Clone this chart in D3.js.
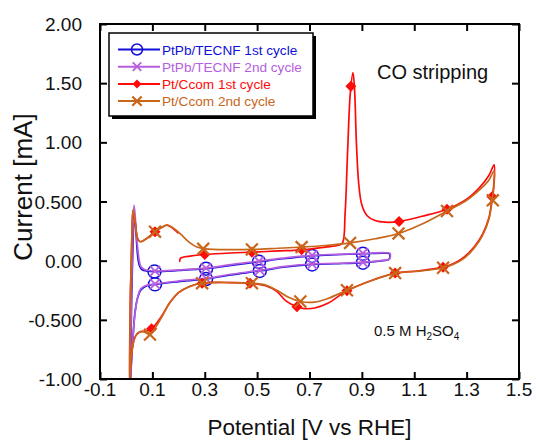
<!DOCTYPE html>
<html lang="en">
<head>
<meta charset="UTF-8">
<title>CO stripping</title>
<script src="https://cdn.jsdelivr.net/npm/d3@7"></script>
<style>
  body { margin: 0; background: #fff; font-family: 'Liberation Sans', Arial, sans-serif; }
  .frame { fill: none; stroke: #000; stroke-width: 2; }
  .tick-label { font-size: 19px; fill: #111; }
</style>
</head>
<body>
<div id="chart"></div>
<script>
// scan data: [potential V, current mA], in scan order
var pb1Line = [[0.016,-1.05],[0.021,-0.3],[0.026,0.15],[0.031,0.4],[0.037,0.25],[0.044,0.04],[0.051,-0.045],[0.06,-0.075],[0.08,-0.088],[0.11,-0.092],[0.2,-0.083],[0.305,-0.068],[0.4,-0.04],[0.507,-0.01],[0.6,0.016],[0.71,0.04],[0.8,0.05],[0.904,0.058],[0.99,0.063],[1.005,0.058],[1.004,0.012],[0.98,0.0],[0.904,-0.017],[0.8,-0.026],[0.71,-0.032],[0.6,-0.055],[0.51,-0.087],[0.4,-0.12],[0.305,-0.155],[0.2,-0.177],[0.11,-0.2],[0.075,-0.215],[0.055,-0.25],[0.043,-0.32],[0.033,-0.45],[0.025,-0.68],[0.019,-0.9],[0.016,-1.05]];
var pb2Line = [[0.015,-1.05],[0.02,-0.3],[0.025,0.2],[0.03,0.47],[0.036,0.33],[0.042,0.15],[0.05,0.0],[0.056,-0.05],[0.07,-0.075],[0.11,-0.087],[0.2,-0.078],[0.305,-0.063],[0.4,-0.033],[0.507,-0.004],[0.6,0.022],[0.71,0.045],[0.8,0.054],[0.904,0.062],[0.99,0.067],[1.007,0.062],[1.006,0.015],[0.98,0.003],[0.904,-0.013],[0.8,-0.022],[0.71,-0.028],[0.6,-0.05],[0.51,-0.082],[0.4,-0.115],[0.305,-0.15],[0.2,-0.172],[0.11,-0.197],[0.075,-0.21],[0.055,-0.24],[0.045,-0.3],[0.035,-0.42],[0.026,-0.65],[0.019,-0.9],[0.016,-1.05]];
var ccom1Line = [[0.205,-0.01],[0.207,0.02],[0.25,0.04],[0.3,0.052],[0.4,0.065],[0.48,0.072],[0.58,0.082],[0.67,0.092],[0.76,0.115],[0.81,0.13],[0.826,0.15],[0.836,0.4],[0.846,0.95],[0.856,1.42],[0.866,1.59],[0.872,1.45],[0.879,1.0],[0.888,0.65],[0.9,0.47],[0.92,0.38],[0.95,0.34],[0.99,0.325],[1.04,0.33],[1.13,0.375],[1.225,0.435],[1.3,0.52],[1.35,0.62],[1.385,0.72],[1.405,0.81],[1.404,0.65],[1.398,0.54],[1.385,0.36],[1.36,0.22],[1.33,0.12],[1.29,0.03],[1.25,-0.025],[1.21,-0.055],[1.12,-0.085],[1.03,-0.105],[0.94,-0.165],[0.843,-0.255],[0.77,-0.36],[0.72,-0.4],[0.68,-0.405],[0.652,-0.39],[0.61,-0.34],[0.575,-0.26],[0.53,-0.21],[0.473,-0.19],[0.4,-0.185],[0.29,-0.19],[0.24,-0.22],[0.2,-0.27],[0.165,-0.36],[0.135,-0.47],[0.097,-0.575],[0.07,-0.595],[0.05,-0.605],[0.035,-0.64],[0.025,-0.72],[0.018,-0.85],[0.013,-1.05],[0.016,-0.3],[0.021,0.15],[0.026,0.42],[0.034,0.32],[0.045,0.18],[0.055,0.16],[0.08,0.19],[0.11,0.245],[0.135,0.28],[0.156,0.3],[0.18,0.27],[0.2,0.23]];
var ccom2Line = [[0.013,-1.05],[0.016,-0.3],[0.021,0.15],[0.026,0.43],[0.034,0.33],[0.043,0.19],[0.053,0.16],[0.08,0.19],[0.11,0.245],[0.135,0.28],[0.156,0.3],[0.18,0.275],[0.205,0.23],[0.244,0.15],[0.27,0.115],[0.3,0.1],[0.4,0.093],[0.48,0.095],[0.58,0.105],[0.67,0.115],[0.76,0.128],[0.855,0.15],[0.95,0.185],[1.04,0.23],[1.13,0.31],[1.225,0.42],[1.3,0.51],[1.35,0.6],[1.385,0.68],[1.405,0.76],[1.404,0.62],[1.398,0.52],[1.385,0.35],[1.36,0.21],[1.33,0.11],[1.29,0.02],[1.25,-0.03],[1.21,-0.06],[1.12,-0.088],[1.03,-0.105],[0.94,-0.165],[0.843,-0.25],[0.77,-0.32],[0.72,-0.35],[0.665,-0.345],[0.62,-0.31],[0.575,-0.25],[0.53,-0.205],[0.473,-0.19],[0.4,-0.185],[0.29,-0.19],[0.24,-0.22],[0.2,-0.27],[0.165,-0.36],[0.135,-0.48],[0.1,-0.6],[0.085,-0.62],[0.065,-0.6],[0.045,-0.61],[0.03,-0.67],[0.02,-0.8],[0.015,-0.95],[0.013,-1.05]];

// marker positions
var pb1Marks = [[0.108,-0.092],[0.305,-0.068],[0.507,-0.01],[0.71,0.04],[0.904,0.058],[0.904,-0.017],[0.71,-0.032],[0.51,-0.087],[0.305,-0.155],[0.11,-0.2]];
var pb2Marks = [[0.11,-0.087],[0.305,-0.063],[0.507,-0.004],[0.71,0.045],[0.904,0.062],[0.904,-0.013],[0.71,-0.028],[0.51,-0.082],[0.305,-0.15],[0.11,-0.197]];
var ccom1Marks = [[0.11,0.245],[0.3,0.052],[0.48,0.072],[0.67,0.092],[0.858,1.475],[1.042,0.33],[1.225,0.435],[1.397,0.54],[1.21,-0.055],[1.027,-0.105],[0.843,-0.255],[0.652,-0.39],[0.473,-0.19],[0.29,-0.19],[0.097,-0.575]];
var ccom2Marks = [[0.11,0.245],[0.294,0.1],[0.48,0.095],[0.67,0.115],[0.855,0.15],[1.04,0.23],[1.225,0.42],[1.4,0.51],[1.21,-0.06],[1.027,-0.105],[0.843,-0.25],[0.665,-0.345],[0.48,-0.19],[0.29,-0.19],[0.091,-0.625]];

var seriesNames = ["PtPb/TECNF 1st cycle", "PtPb/TECNF 2nd cycle", "Pt/Ccom 1st cycle", "Pt/Ccom 2nd cycle"];
var seriesColors = ["#1010d8", "#b65ede", "#ff0a0a", "#c8661a"];
var seriesSymbols = ["circle", "xpurple", "diamond", "x"];

var xTicks = [-0.1, 0.1, 0.3, 0.5, 0.7, 0.9, 1.1, 1.3, 1.5];
var xTickLabels = ["-0.1", "0.1", "0.3", "0.5", "0.7", "0.9", "1.1", "1.3", "1.5"];
var yTicks = [-1, -0.5, 0, 0.5, 1, 1.5, 2];
var yTickLabels = ["-1.00", "-0.500", "0.00", "0.500", "1.00", "1.50", "2.00"];

var W = 536, H = 441;
var margin = {top: 24, right: 17, bottom: 62, left: 100};
var width = W - margin.left - margin.right,
    height = H - margin.top - margin.bottom;

var svg = d3.select("#chart").append("svg")
    .attr("width", W)
    .attr("height", H);

var g = svg.append("g")
    .attr("transform", "translate(" + margin.left + "," + margin.top + ")");

var x = d3.scaleLinear().domain([-0.1, 1.5]).range([0, width]);
var y = d3.scaleLinear().domain([-1, 2]).range([height, 0]);

g.append("clipPath").attr("id", "clip")
  .append("rect").attr("width", width).attr("height", height);

// axes, ticks point inward on all four sides
var tk = 7;
g.append("g").attr("transform", "translate(0," + height + ")")
    .call(d3.axisBottom(x).tickValues(xTicks).tickSizeInner(-tk).tickSizeOuter(0).tickFormat(""));
g.append("g")
    .call(d3.axisTop(x).tickValues(xTicks).tickSizeInner(-tk).tickSizeOuter(0).tickFormat(""));
g.append("g")
    .call(d3.axisLeft(y).tickValues(yTicks).tickSizeInner(-tk).tickSizeOuter(0).tickFormat(""));
g.append("g").attr("transform", "translate(" + width + ",0)")
    .call(d3.axisRight(y).tickValues(yTicks).tickSizeInner(-tk).tickSizeOuter(0).tickFormat(""));
g.selectAll(".domain").remove();
g.selectAll(".tick line").attr("stroke", "#000").attr("stroke-width", 2);

g.selectAll(".xlab").data(xTicks).enter().append("text")
    .attr("class", "tick-label")
    .attr("x", function (d) { return x(d); })
    .attr("y", height + 17)
    .attr("text-anchor", "middle")
    .text(function (d, i) { return xTickLabels[i]; });

g.selectAll(".ylab").data(yTicks).enter().append("text")
    .attr("class", "tick-label")
    .attr("x", -18)
    .attr("y", function (d) { return y(d) + 7; })
    .attr("text-anchor", "end")
    .text(function (d, i) { return yTickLabels[i]; });

// curves
var line = d3.line()
    .x(function (d) { return x(d[0]); })
    .y(function (d) { return y(d[1]); })
    .curve(d3.curveCatmullRom.alpha(0.5));

var lines = [pb1Line, pb2Line, ccom1Line, ccom2Line];
var marks = [pb1Marks, pb2Marks, ccom1Marks, ccom2Marks];

var plot = g.append("g").attr("clip-path", "url(#clip)");

function drawMarker(sel, sym, color, s) {
    if (sym === "circle") {
        sel.append("circle").attr("r", s).attr("fill", "none")
            .attr("stroke", color).attr("stroke-width", 1.5);
    } else if (sym === "diamond") {
        sel.append("path")
            .attr("d", "M0," + (-s) + "L" + s + ",0L0," + s + "L" + (-s) + ",0Z")
            .attr("fill", color);
    } else {
        var k = s * 0.85;
        sel.append("path")
            .attr("d", "M" + (-k) + "," + (-k) + "L" + k + "," + k + "M" + (-k) + "," + k + "L" + k + "," + (-k))
            .attr("stroke", color).attr("stroke-width", sym === "x" ? 2.2 : 1.8).attr("fill", "none");
    }
}

var markSize = [6.5, 6, 5.5, 7];

lines.forEach(function (pts, i) {
    plot.append("path")
        .datum(pts)
        .attr("d", line)
        .attr("fill", "none")
        .attr("stroke", seriesColors[i])
        .attr("stroke-width", 1.7);

    plot.selectAll(".m" + i).data(marks[i]).enter().append("g")
        .attr("transform", function (d) { return "translate(" + x(d[0]) + "," + y(d[1]) + ")"; })
        .each(function () { drawMarker(d3.select(this), seriesSymbols[i], seriesColors[i], markSize[i]); });
});

// frame
g.append("rect").attr("class", "frame").attr("width", width).attr("height", height);

// legend
var lg = g.append("g").attr("transform", "translate(9,9)");
lg.append("rect").attr("x", 3).attr("y", 3).attr("width", 204).attr("height", 83).attr("fill", "#000");
lg.append("rect").attr("width", 204).attr("height", 83).attr("fill", "#fff")
    .attr("stroke", "#000").attr("stroke-width", 1.5);

seriesNames.forEach(function (name, i) {
    var row = lg.append("g").attr("transform", "translate(0," + (16.5 + i * 17.2) + ")");
    row.append("line").attr("x1", 9).attr("x2", 51).attr("stroke", seriesColors[i]).attr("stroke-width", 2);
    var m = row.append("g").attr("transform", "translate(28,0)");
    drawMarker(m, seriesSymbols[i], seriesColors[i], [5.5, 5, 4.5, 5.5][i]);
    row.append("text").attr("x", 53).attr("y", 5)
        .attr("fill", seriesColors[i])
        .style("font-size", "13.6px")
        .text(name);
});

// annotations
g.append("text").attr("x", 277).attr("y", 55)
    .style("font-size", "20px").attr("fill", "#111")
    .text("CO stripping");

var conc = g.append("text").attr("x", 274).attr("y", 312)
    .style("font-size", "15px").attr("fill", "#111");
conc.append("tspan").text("0.5 M H");
conc.append("tspan").attr("dy", 4).style("font-size", "10px").text("2");
conc.append("tspan").attr("dy", -4).text("SO");
conc.append("tspan").attr("dy", 4).style("font-size", "10px").text("4");

// axis titles
svg.append("text")
    .attr("x", margin.left + width / 2)
    .attr("y", 435)
    .attr("text-anchor", "middle")
    .style("font-size", "22.5px").attr("fill", "#111")
    .text("Potential [V vs RHE]");

svg.append("text")
    .attr("transform", "translate(32,187) rotate(-90)")
    .attr("text-anchor", "middle")
    .style("font-size", "26px").attr("fill", "#111")
    .text("Current [mA]");
</script>
</body>
</html>
